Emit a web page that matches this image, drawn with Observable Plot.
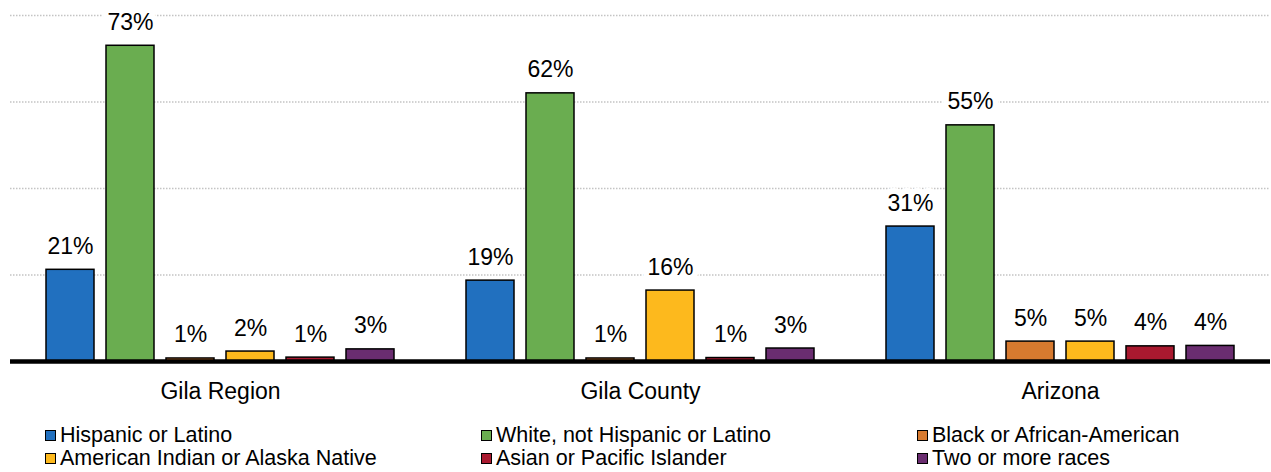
<!DOCTYPE html>
<html><head><meta charset="utf-8">
<script src="https://cdn.jsdelivr.net/npm/d3@7"></script>
<script src="https://cdn.jsdelivr.net/npm/@observablehq/plot@0.6"></script>
<style>
body{margin:0;background:#fff;font-family:"Liberation Sans",Arial,sans-serif;}
#legend{display:grid;grid-template-columns:436px 436px 360px;padding-left:45px;margin-top:13px;font-size:21.5px;line-height:23px;color:#000}
.item{display:flex;align-items:center;white-space:nowrap}
.sw{width:9px;height:9px;border:1px solid #000;margin-right:4px;flex:none}
</style></head><body>
<div id="chart"></div><div id="legend"></div>
<script>
const groups = ["Gila Region", "Gila County", "Arizona"];
const races = ["Hispanic or Latino", "White, not Hispanic or Latino", "Black or African-American",
  "American Indian or Alaska Native", "Asian or Pacific Islander", "Two or more races"];
const colors = ["#2170bf", "#6aad50", "#d77a2f", "#fdb91d", "#a9192f", "#6a2d70"];
const gilaRegion = [21.2, 73, 0.7, 2.3, 0.9, 2.8];
const gilaCounty = [18.7, 62, 0.7, 16.4, 0.8, 3.0];
const arizona = [31.2, 54.6, 4.6, 4.6, 3.5, 3.6];
const yTicks = [20, 40, 60, 80];

const series = [gilaRegion, gilaCounty, arizona];
const data = groups.flatMap((g, i) => races.map((r, j) => ({group: g, race: r, value: series[i][j]})));

const chart = Plot.plot({
  width: 1271, height: 411,
  marginTop: 15, marginBottom: 50, marginLeft: 10, marginRight: 1,
  style: {fontFamily: "Liberation Sans, Arial, sans-serif", fontSize: "23px", background: "#fff", color: "#000"},
  fx: {domain: groups, padding: 0, label: null, axis: "bottom", tickSize: 0, tickPadding: 21},
  x: {domain: races, paddingInner: 0.2, paddingOuter: 0.6, axis: null},
  y: {domain: [0, 80], axis: null},
  color: {domain: races, range: colors},
  marks: [
    Plot.ruleY(yTicks, {stroke: "#c4c4c4", strokeDasharray: "1.5,1.5", strokeWidth: 1.3}),
    Plot.barY(data, {fx: "group", x: "race", y: "value", fill: "race", stroke: "#000", strokeWidth: 1.5}),
    Plot.ruleY([0], {stroke: "#000", strokeWidth: 4.5}),
    Plot.text(data, {fx: "group", x: "race", y: "value", text: d => Math.round(d.value) + "%",
      lineAnchor: "bottom", dy: -16, fontSize: 23, fill: "#000",
      stroke: "#fff", strokeWidth: 12, paintOrder: "stroke", strokeLinejoin: "round"})
  ]
});
document.getElementById("chart").append(chart);

const legendOrder = [0, 1, 2, 3, 4, 5];
const legend = document.getElementById("legend");
for (const i of legendOrder) {
  const it = document.createElement("div");
  it.className = "item";
  const sw = document.createElement("span");
  sw.className = "sw";
  sw.style.background = colors[i];
  const tx = document.createElement("span");
  tx.textContent = races[i];
  it.append(sw, tx);
  legend.append(it);
}
</script>
</body></html>
